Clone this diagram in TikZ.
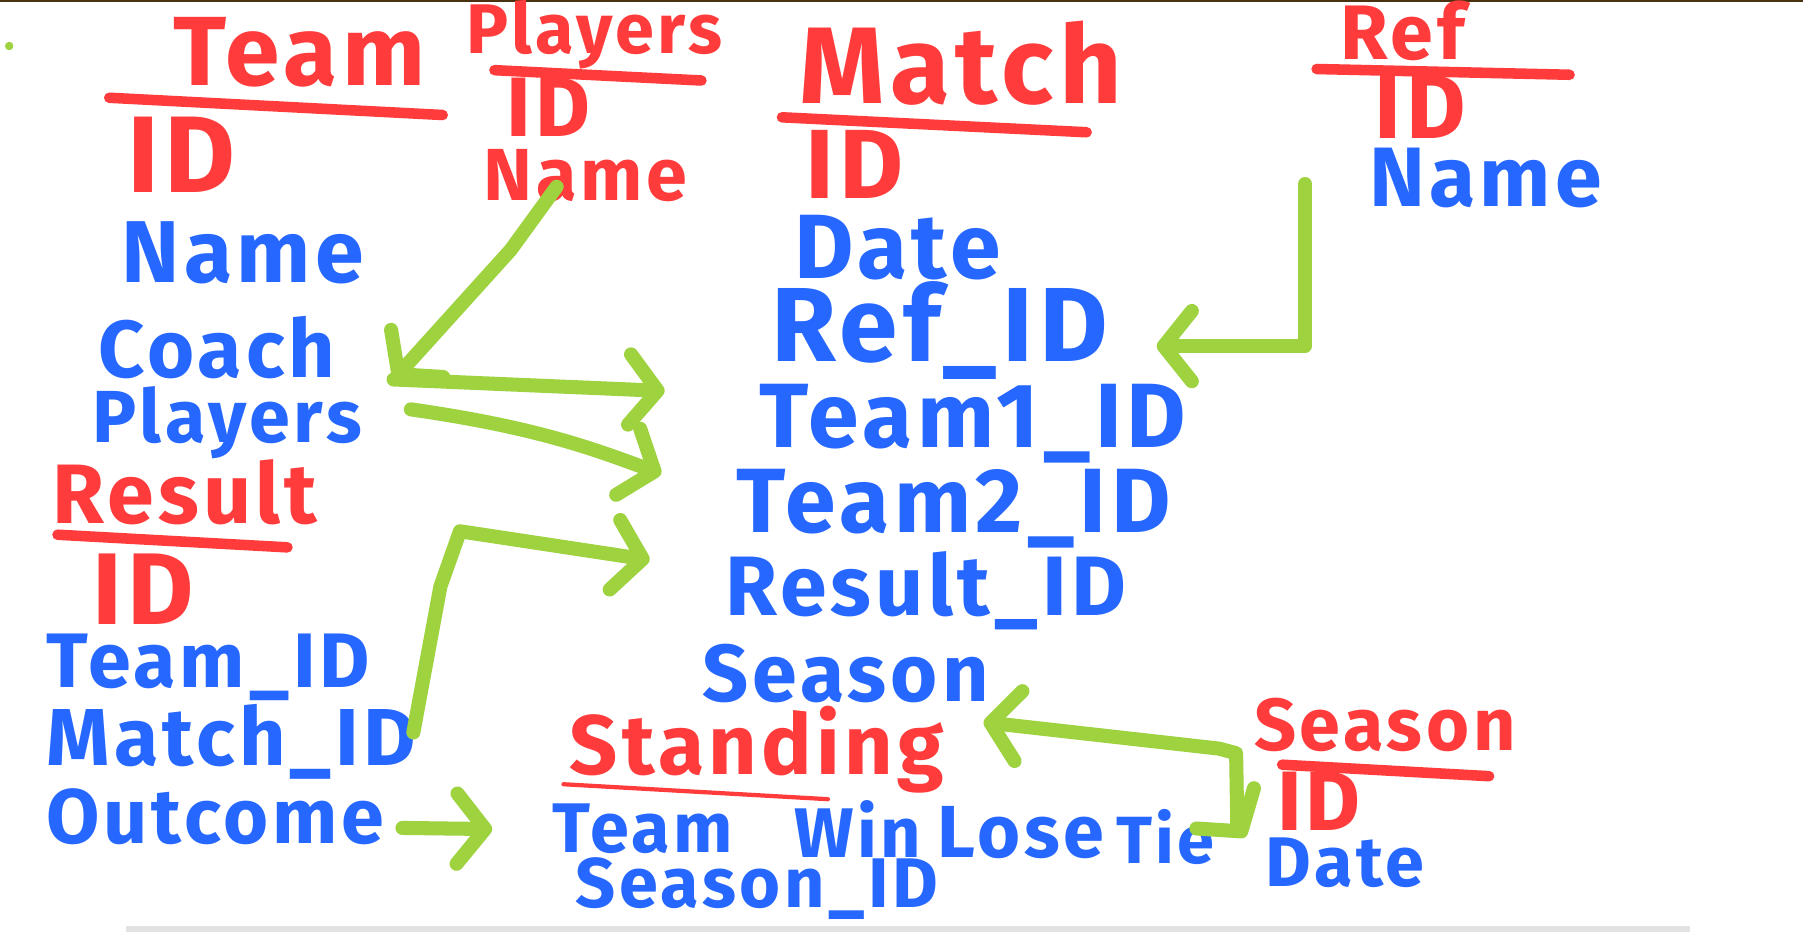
\documentclass[tikz,border=0pt]{standalone}
\usepackage{fontspec}
\setmainfont{Fira Sans}[LetterSpace=5]
\usetikzlibrary{arrows.meta,calc}

\definecolor{penred}{HTML}{FF3B3B}
\definecolor{penblue}{HTML}{2668FF}
\definecolor{pengreen}{HTML}{9ED23F}
\definecolor{topedge}{HTML}{4A3210}
\definecolor{bottomedge}{HTML}{E2E2E2}

\tikzset{
  >={Straight Barb[length=8pt,width=20pt,round]},
  title/.style={text=penred, inner sep=0pt, anchor=west, font=\fontsize{#1}{#1}\selectfont\bfseries},
  title/.default=26,
  key/.style={text=penred, inner sep=0pt, anchor=west, font=\fontsize{#1}{#1}\selectfont\bfseries},
  key/.default=28,
  field/.style={text=penblue, inner sep=0pt, anchor=west, font=\fontsize{#1}{#1}\selectfont\bfseries},
  field/.default=24,
  rule/.style={draw=penred, line width=3pt, line cap=round},
  link/.style={draw=pengreen, line width=4pt, line cap=round, line join=round}
}

\begin{document}
\begin{tikzpicture}[x=0.0115cm,y=-0.0115cm]
\useasboundingbox (0,0) rectangle (1568,811);
\fill[white] (0,0) rectangle (1568,811);
\draw[topedge, line width=0.8pt] (0,0.5) -- (1568,0.5);
\draw[bottomedge, line width=1.5pt] (110,808) -- (1470,808);
\fill[pengreen] (8,40) circle[radius=1.2pt];

% Team
\node[title=28] (teamhd) at (150,45) {Team};
\draw[rule] (95,85) -- (385,100);
\node[key=31] (teamid) at (110,135) {ID};
\node[field=25] (teamname) at (105,220) {Name};
\node[field=23] (teamcoach) at (85,302) {Coach};
\node[field=21] (teamplayers) at (80,368) {Players};

% Result
\node[title=24] (resulthd) at (45,428) {Result};
\draw[rule] (50,465) -- (250,476);
\node[key=29] (resultid) at (80,512) {ID};
\node[field=22] (resultteam) at (40,580) {Team\_ID};
\node[field=23] (resultmatch) at (40,645) {Match\_ID};
\node[field=22] (resultout) at (40,710) {Outcome};

% Players
\node[title=20] (playershd) at (405,30) {Players};
\draw[rule] (430,61) -- (610,70);
\node[key=24] (playersid) at (440,93) {ID};
\node[title=21] (playersname) at (420,153) {Name};

% Match
\node[title=31] (matchhd) at (695,55) {Match};
\draw[rule] (680,102) -- (945,115);
\node[key=28] (matchid) at (700,143) {ID};
\node[field=26] (matchdate) at (690,215) {Date};
\node[field=30] (matchref) at (670,287) {Ref\_ID};
\node[field=26] (matchteamone) at (660,368) {Team1\_ID};
\node[field=26] (matchteamtwo) at (640,442) {Team2\_ID};
\node[field=24] (matchresult) at (630,514) {Result\_ID};
\node[field=23] (matchseason) at (610,586) {Season};

% Ref
\node[title=22] (refhd) at (1165,27) {Ref};
\draw[rule] (1145,60) -- (1365,65);
\node[key=26] (refid) at (1195,93) {ID};
\node[field=24] (refname) at (1190,155) {Name};

% Season
\node[title=21] (seasonhd) at (1090,630) {Season};
\draw[rule] (1115,665) -- (1295,675);
\node[key=24] (seasonid) at (1110,697) {ID};
\node[field=20] (seasondate) at (1100,750) {Date};

% Standing
\node[title=24] (standhd) at (495,652) {Standing};
\draw[penred, line width=1.2pt, line cap=round] (490,682) -- (720,695);
\node[field=20] (standteam) at (480,721) {Team};
\node[field=20] (standwin) at (690,721) {Win};
\node[field=21] (standlose) at (815,724) {Lose};
\node[field=19] (standtie) at (970,728) {Tie};
\node[field=20] (standseason) at (500,773) {Season\_ID};

% links
\coordinate (teamin) at ($(teamcoach.east)+(50,28)$);
\draw[link,->] ($(playersname.south)+(-25,-14)$) -- ++(-40,55) -- (teamin);
\draw[link,->] (teamin) -- ($(matchteamone.west)+(-82,-28)$);
\draw[link,->] ($(teamplayers.east)+(42,-12)$) .. controls (470,372) and (520,392) .. ($(matchteamtwo.west)+(-65,-30)$);
\draw[link,->] ($(resultmatch.east)+(-3,-8)$) -- (383,510) -- (400,462) -- ($(matchresult.west)+(-65,-27)$);
\draw[link,->] ($(resultout.east)+(15,10)$) -- ($(standteam.west)+(-52,0)$);
\draw[link,->] ($(refname.west)+(-55,5)$) |- ($(matchref.east)+(42,14)$);
\coordinate (seasonbend) at (1075,655);
\draw[link,<->] ($(matchseason.east)+(-5,42)$) -- ($(seasonbend)+(-15,-4)$) -- (seasonbend) -- ($(seasondate.west)+(-24,-32)$) -- ($(seasondate.west)+(-17,-22)$);
\end{tikzpicture}
\end{document}
